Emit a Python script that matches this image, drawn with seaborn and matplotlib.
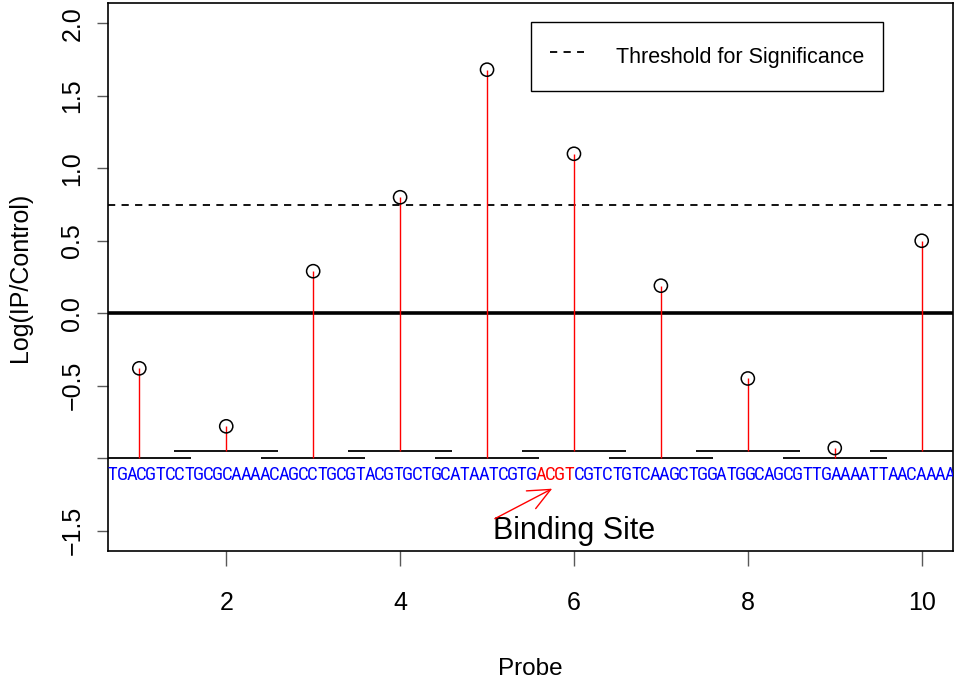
import numpy as np
import pandas as pd
import matplotlib
matplotlib.use("Agg")
import matplotlib.pyplot as plt
from matplotlib.lines import Line2D
import seaborn as sns

# probe data
probes = [1, 2, 3, 4, 5, 6, 7, 8, 9, 10]
log_ratio = [-0.38, -0.78, 0.29, 0.80, 1.68, 1.10, 0.19, -0.45, -0.93, 0.50]
probe_row = [-1.0, -0.95, -1.0, -0.95, -1.0, -0.95, -1.0, -0.95, -1.0, -0.95]
probe_half = 0.6
threshold = 0.75

# sequence under the probes
seq_left = "TGACGTCCTGCGCAAAACAGCCTGCGTACGTGCTGCATAATCGTG"
seq_site = "ACGT"
seq_right = "CGTCTGTCAAGCTGGATGGCAGCGTTGAAAATTAACAAAA"

x_ticks = [2, 4, 6, 8, 10]
y_ticks = [-1.5, -1.0, -0.5, 0.0, 0.5, 1.0, 1.5, 2.0]
y_ticklabels = ["\u22121.5", "", "\u22120.5", "0.0", "0.5", "1.0", "1.5", "2.0"]

sns.set_theme(style="white")
plt.rcParams["font.family"] = ["Liberation Sans", "DejaVu Sans"]
plt.rcParams["text.color"] = "black"
plt.rcParams["axes.labelcolor"] = "black"
plt.rcParams["xtick.color"] = "black"
plt.rcParams["ytick.color"] = "black"

df = pd.DataFrame({"probe": probes, "value": log_ratio, "row": probe_row})

fig = plt.figure(figsize=(9.55, 6.81), dpi=100)
ax = fig.add_axes([0.1131, 0.1909, 0.8848, 0.8047])

dash = (0, (4, 3.5))

# reference lines
ax.axhline(0, color="black", lw=2.6, zorder=2)
ax.axhline(threshold, color="black", lw=1.3, ls=dash, zorder=2)

# probe segments and stems
ax.hlines(df["row"], df["probe"] - probe_half, df["probe"] + probe_half,
          color="black", lw=1.3, zorder=2)
ax.vlines(df["probe"], df["row"], df["value"], color="red", lw=1.0, zorder=3)
sns.scatterplot(data=df, x="probe", y="value", ax=ax, marker="o", s=90,
                facecolor="none", edgecolor="black", linewidth=1.1, zorder=4)

# sequence text, one letter per slot so it stays narrow like the original
xmin, xmax = 0.64, 10.36
seq = seq_left + seq_site + seq_right
step = 0.1094
seq_font = ["Liberation Sans Narrow", "Roboto Condensed", "Liberation Sans"]
site_start = len(seq_left)
site_end = site_start + len(seq_site)
for i, ch in enumerate(seq):
    col = "red" if site_start <= i < site_end else "blue"
    ax.text(xmin + (i + 0.5) * step, -1.118, ch, color=col, fontsize=13.5,
            family=seq_font, ha="center", va="center", clip_on=True)

# binding site annotation
ax.text(6.0, -1.5, "Binding Site", fontsize=22, ha="center", va="center")
ax.annotate("", xy=(5.75, -1.21), xytext=(5.09, -1.417),
            arrowprops=dict(arrowstyle="->,head_length=1.0,head_width=0.45",
                            color="red", lw=1.0, mutation_scale=16,
                            shrinkA=0, shrinkB=0))

ax.set_xlim(xmin, xmax)
ax.set_ylim(-1.64, 2.14)
ax.set_xticks(x_ticks)
ax.set_xticklabels([str(v) for v in x_ticks])
ax.set_yticks(y_ticks)
ax.set_yticklabels(y_ticklabels)
ax.tick_params(axis="x", bottom=True, length=10.5, width=1, color="0.35",
               labelsize=18, pad=18)
ax.tick_params(axis="y", left=True, length=8, width=1, color="0.35",
               labelsize=18, pad=9, labelrotation=90)
for lab in ax.get_yticklabels():
    lab.set_va("center")

for sp in ax.spines.values():
    sp.set_color("black")
    sp.set_linewidth(1.2)

ax.set_xlabel("Probe", fontsize=17.5)
ax.xaxis.set_label_coords(0.5, -0.195)
ax.set_ylabel("Log(IP/Control)", fontsize=18)
ax.yaxis.set_label_coords(-0.09, 0.5)

leg_handle = Line2D([], [], color="black", lw=1.3, ls=dash)
ax.legend([leg_handle], ["Threshold for Significance"], loc="upper right",
          bbox_to_anchor=(0.917, 0.965), fontsize=15.5, frameon=True,
          fancybox=False, edgecolor="black", framealpha=1, borderpad=0.85,
          handlelength=1.6, handleheight=1.9, handletextpad=1.5,
          borderaxespad=0)
ax.get_legend().get_frame().set_linewidth(1.0)

fig.savefig("out.png", dpi=100)
